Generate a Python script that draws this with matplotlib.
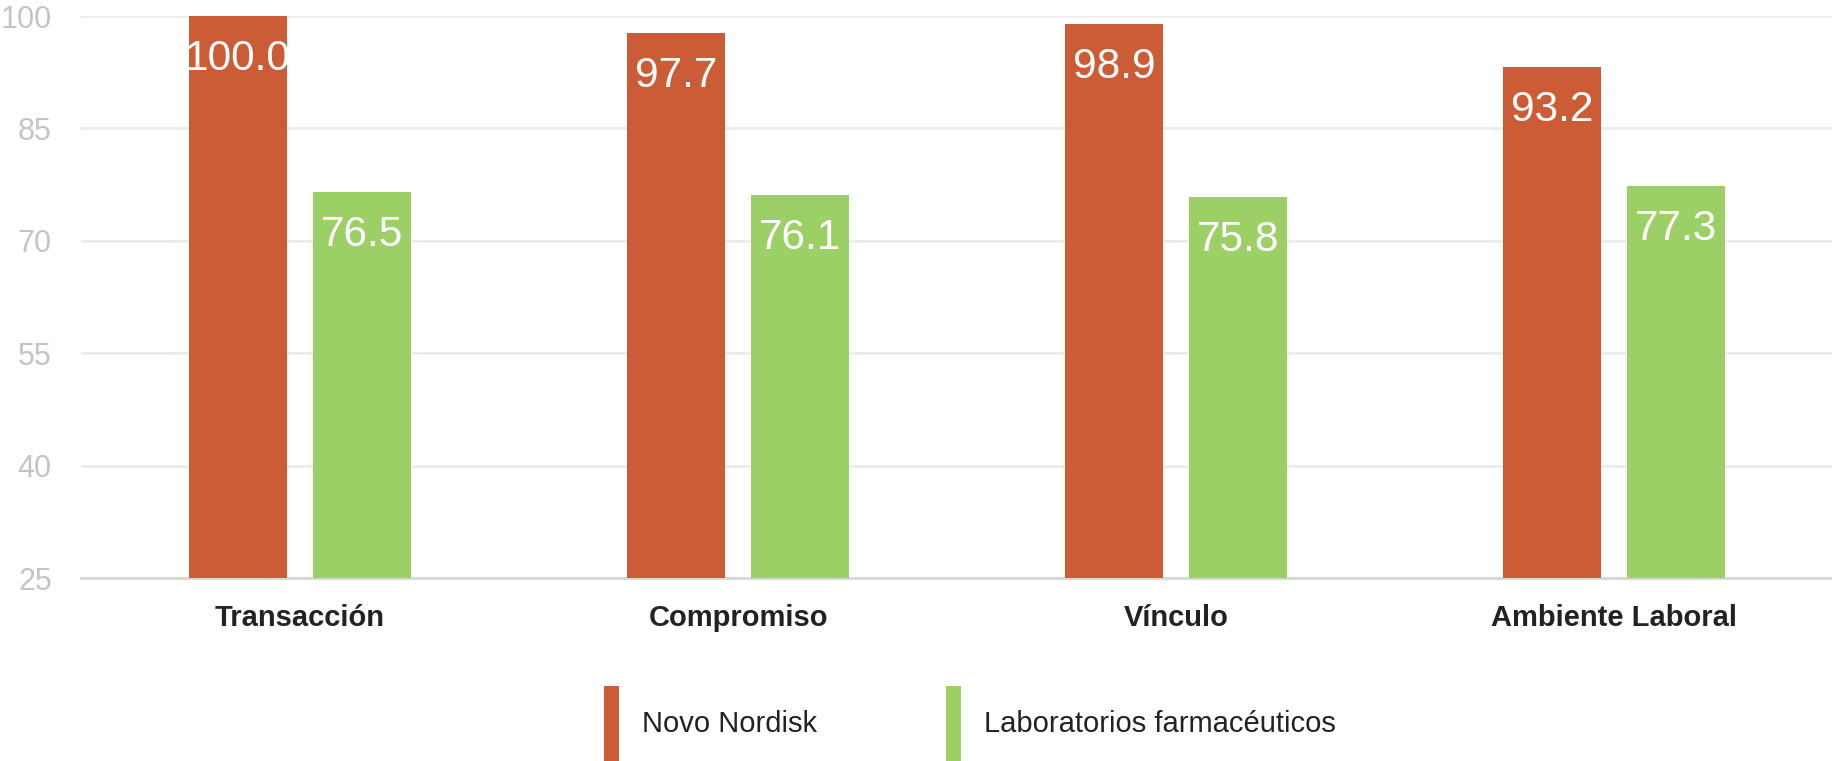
import numpy as np
import matplotlib
matplotlib.use('Agg')
import matplotlib.pyplot as plt

plt.rcParams['font.family'] = ['Liberation Sans', 'DejaVu Sans']

categories = ['Transacción', 'Compromiso', 'Vínculo', 'Ambiente Laboral']
novo = [100.0, 97.7, 98.9, 93.2]
labs = [76.5, 76.1, 75.8, 77.3]
series_names = ['Novo Nordisk', 'Laboratorios farmacéuticos']
yticks = [25, 40, 55, 70, 85, 100]

c_novo = '#cb5c35'
c_labs = '#9cd067'

fig = plt.figure(figsize=(18.33, 7.61), dpi=100)
ax = fig.add_axes([81 / 1833, 1 - 578 / 761, 1 - 81 / 1833, (578 - 16) / 761])

x = np.arange(len(categories))
w = 0.224
off = 0.1416
b1 = ax.bar(x - off, np.array(novo) - 25, w, bottom=25, color=c_novo, label=series_names[0], zorder=3)
b2 = ax.bar(x + off, np.array(labs) - 25, w, bottom=25, color=c_labs, label=series_names[1], zorder=3)

for bars, vals in ((b1, novo), (b2, labs)):
    for b, v in zip(bars, vals):
        ax.annotate('%.1f' % v, (b.get_x() + b.get_width() / 2, v),
                    xytext=(0, -16.5), textcoords='offset points',
                    ha='center', va='top', color='white', fontsize=30.5, zorder=4)

ax.set_xlim(-0.5, len(categories) - 0.5)
ax.set_ylim(25, 100)
ax.set_yticks(yticks)
ax.set_yticklabels([str(t) for t in yticks], fontsize=22, color='#c4c4c4')
ax.set_xticks(x)
ax.set_xticklabels(categories, fontsize=21, fontweight='bold', color='#222222')
ax.tick_params(axis='both', length=0)
ax.tick_params(axis='y', pad=21)
ax.tick_params(axis='x', pad=19)
ax.grid(axis='y', color='#ececec', linewidth=2, zorder=0)
for s in ['top', 'right', 'left']:
    ax.spines[s].set_visible(False)
ax.spines['bottom'].set_color('#d6d6d6')
ax.spines['bottom'].set_linewidth(2)

fig.legend(handles=[b1, b2], labels=series_names, loc='upper left',
           bbox_to_anchor=(604 / 1833, 1 - 686 / 761), ncol=2, frameon=False,
           fontsize=21, handleheight=3.65, handlelength=0.5, handletextpad=0.79,
           columnspacing=4.45, borderpad=0, borderaxespad=0, labelcolor='#222222')

fig.savefig('out.png', dpi=100)
